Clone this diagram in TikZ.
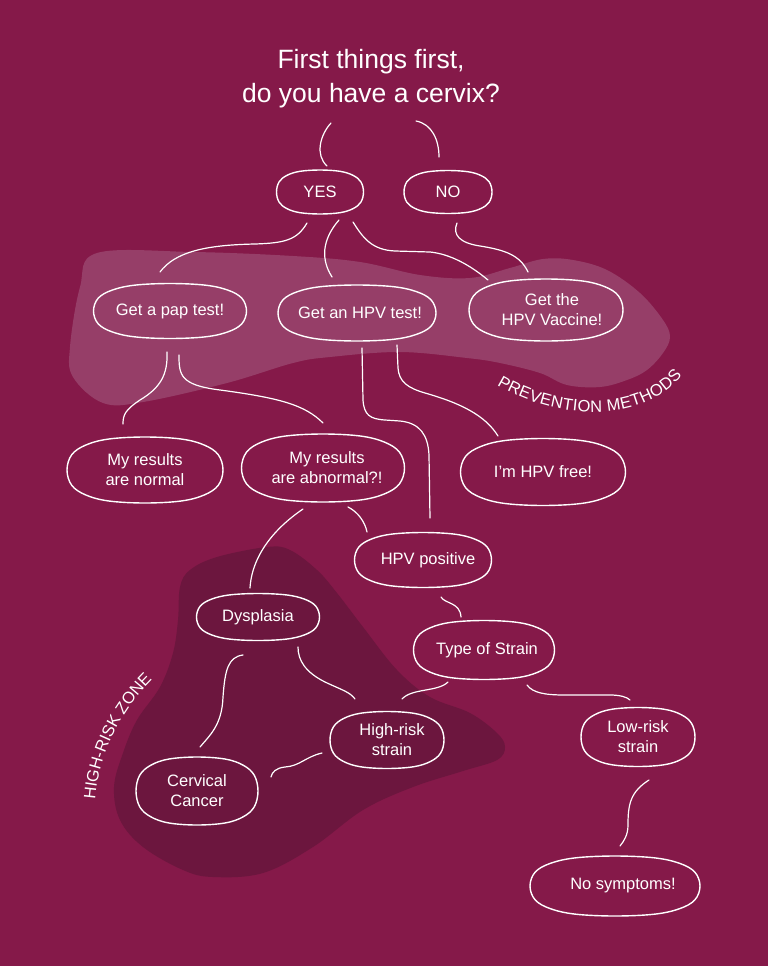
\documentclass[tikz,border=0pt]{standalone}
\usepackage{fontspec}
\setmainfont{Liberation Sans}
\usetikzlibrary{decorations.text}
\definecolor{bgc}{RGB}{133,25,73}
\definecolor{lightblob}{RGB}{150,62,104}
\definecolor{darkblob}{RGB}{108,22,62}
\newcommand\ovl[3]{\draw[ovalline, shift={(#1.center)}] plot[smooth cycle, tension=0.6] coordinates {
  ({#2},0) ({0.939*#2},{0.464*#3}) ({0.758*#2},{0.758*#3}) ({0.464*#2},{0.939*#3})
  (0,{#3}) ({-0.464*#2},{0.939*#3}) ({-0.758*#2},{0.758*#3}) ({-0.939*#2},{0.464*#3})
  ({-#2},0) ({-0.939*#2},{-0.464*#3}) ({-0.758*#2},{-0.758*#3}) ({-0.464*#2},{-0.939*#3})
  (0,{-#3}) ({0.464*#2},{-0.939*#3}) ({0.758*#2},{-0.758*#3}) ({0.939*#2},{-0.464*#3})};}
\begin{document}
\begin{tikzpicture}[x=1pt,y=-1pt,
  box/.style={text=white, align=center, font=\fontsize{16.5}{20}\selectfont, inner sep=0pt},
  ovalline/.style={draw=white, line width=1.4pt},
  conn/.style={draw=white, line width=1.2pt, line cap=round},
  ttl/.style={text=white, font=\fontsize{26.5}{33}\selectfont, inner sep=0pt}]
\fill[bgc] (0,0) rectangle (768,966);
\useasboundingbox (0,0) rectangle (768,966);

% background blobs
\fill[lightblob] plot[smooth cycle, tension=0.6] coordinates {
  (97,253) (193,252) (293,256) (360,262) (420,275) (470,278) (510,268) (543,259)
  (573,260) (607,270) (640,293) (663,320) (670,337) (663,353) (647,370) (627,380)
  (600,387) (567,385) (540,373) (500,363) (467,358) (400,352) (330,357) (293,363)
  (227,383) (143,402) (103,403) (73,377) (70,347) (80,287)};
\fill[darkblob] plot[smooth cycle, tension=0.6] coordinates {
  (267,547) (290,550) (317,570) (337,593) (363,627) (397,670) (430,697) (470,713)
  (497,733) (505,747) (497,760) (463,771) (413,787) (363,810) (313,847) (263,873)
  (213,877) (183,870) (143,847) (120,820) (114,787) (123,753) (137,720) (160,687)
  (173,653) (178,620) (180,587) (190,570) (217,557)};

% title
\node[ttl, anchor=base] (title1) at (371,69) {First things first,};
\node[ttl, anchor=base] (title2) at (371,102) {do you have a cervix?};

% boxes (labels + hand-drawn ovals)
\node[box] (yes) at (320,192) {YES};                 \ovl{yes}{43.5}{22}
\node[box] (no) at (448,192) {NO};                   \ovl{no}{44}{21.5}
\node[box] (pap) at (170,311) {Get a pap test!};     \ovl{pap}{76.5}{27.5}
\node[box] (hpvtest) at (357,313) {\hspace*{6pt}Get an HPV test!}; \ovl{hpvtest}{79}{28}
\node[box] (vaccine) at (546,310) {\hspace*{12pt}Get the\\\hspace*{12pt}HPV Vaccine!}; \ovl{vaccine}{77}{31}
\node[box] (normal) at (145,470) {My results\\are normal}; \ovl{normal}{78}{33}
\node[box] (abnormal) at (323,468) {\hspace*{8pt}My results\\\hspace*{8pt}are abnormal?!}; \ovl{abnormal}{81.5}{34}
\node[box] (hpvfree) at (543,472) {I’m HPV free!};   \ovl{hpvfree}{82.5}{33.5}
\node[box] (hpvpos) at (423,560) {\hspace*{10pt}HPV positive}; \ovl{hpvpos}{68.5}{27.5}
\node[box] (dysplasia) at (258,617) {Dysplasia};     \ovl{dysplasia}{61.5}{23.5}
\node[box] (strain) at (484,650) {\hspace*{6pt}Type of Strain}; \ovl{strain}{70.5}{29.5}
\node[box] (highrisk) at (387,740) {\hspace*{10pt}High-risk\\\hspace*{10pt}strain}; \ovl{highrisk}{57}{28.5}
\node[box] (lowrisk) at (638,737) {Low-risk\\strain}; \ovl{lowrisk}{57}{29.5}
\node[box] (cancer) at (197,791) {Cervical\\Cancer}; \ovl{cancer}{61}{34}
\node[box] (nosym) at (615,886) {\hspace*{16pt}No symptoms!}; \ovl{nosym}{85}{30}

% connectors
\draw[conn] ([shift={(-40,21)}]title2.base) .. controls (320,135) and (315,155) .. ([shift={(7,-26)}]yes.center);
\draw[conn] ([shift={(45,19)}]title2.base) .. controls (432,124) and (439,140) .. ([shift={(-9,-35)}]no.center);
\draw[conn] ([shift={(-13,31)}]yes.center) .. controls (297,240) and (285,243) .. (255,244)
  .. controls (205,245) and (175,252) .. ([shift={(-10,-39)}]pap.center);
\draw[conn] ([shift={(19,28)}]yes.center) .. controls (326,235) and (318,255) .. ([shift={(-25,-36)}]hpvtest.center);
\draw[conn] ([shift={(33,30)}]yes.center) .. controls (363,238) and (372,250) .. (395,251) -- (430,252)
  .. controls (450,254) and (470,265) .. ([shift={(-58,-30)}]vaccine.center);
\draw[conn] ([shift={(9,31)}]no.center) .. controls (452,235) and (460,243) .. (480,246)
  .. controls (505,250) and (520,255) .. ([shift={(-18,-38)}]vaccine.center);
\draw[conn] ([shift={(-3,41)}]pap.center) .. controls (168,375) and (160,388) .. (140,400)
  .. controls (125,410) and (123,415) .. ([shift={(-22,-46)}]normal.center);
\draw[conn] ([shift={(9,44)}]pap.center) .. controls (179,375) and (180,385) .. (220,390)
  .. controls (280,398) and (305,405) .. ([shift={(0,-45)}]abnormal.center);
\draw[conn] ([shift={(5,35)}]hpvtest.center) -- (363,400) .. controls (364,415) and (370,419) .. (385,420) -- (400,421)
  .. controls (420,423) and (428,435) .. (429,455) -- ([shift={(7,-42)}]hpvpos.center);
\draw[conn] ([shift={(40,32)}]hpvtest.center) -- (398,368) .. controls (399,382) and (408,388) .. (425,393)
  .. controls (460,403) and (485,415) .. ([shift={(-45,-36)}]hpvfree.center);
\draw[conn] ([shift={(-20,41)}]abnormal.center) .. controls (275,528) and (252,555) .. ([shift={(-8,-29)}]dysplasia.center);
\draw[conn] ([shift={(25,39)}]abnormal.center) .. controls (358,512) and (365,522) .. ([shift={(-56,-28)}]hpvpos.center);
\draw[conn] ([shift={(18,37)}]hpvpos.center) .. controls (445,604) and (460,602) .. ([shift={(-23,-33)}]strain.center);
\draw[conn] ([shift={(-36,32)}]strain.center) .. controls (438,692) and (412,688) .. ([shift={(15,-41)}]highrisk.center);
\draw[conn] ([shift={(43,35)}]strain.center) .. controls (533,693) and (545,695) .. (565,695) -- (610,695)
  .. controls (620,695) and (627,697) .. ([shift={(-8,-37)}]lowrisk.center);
\draw[conn] ([shift={(40,30)}]dysplasia.center) .. controls (298,660) and (305,672) .. (325,682)
  .. controls (342,690) and (350,692) .. ([shift={(-32,-41)}]highrisk.center);
\draw[conn] ([shift={(-15,38)}]dysplasia.center) .. controls (228,657) and (225,670) .. (223,697)
  .. controls (222,725) and (210,735) .. ([shift={(3,-44)}]cancer.center);
\draw[conn] ([shift={(-65,13)}]highrisk.center) .. controls (305,757) and (300,766) .. (285,767)
  .. controls (276,768) and (272,772) .. ([shift={(74,-14)}]cancer.center);
\draw[conn] ([shift={(11,43)}]lowrisk.center) .. controls (630,792) and (628,805) .. (628,825)
  .. controls (628,835) and (624,841) .. ([shift={(5,-40)}]nosym.center);

% curved labels
\path[decorate, decoration={text along path, text align={fit to path},
  text color=white, text={|\fontsize{16.5}{16.5}\selectfont|PREVENTION METHODS}}]
  (497,385) .. controls (555,420) and (640,425) .. (682,376);
\path[decorate, decoration={text along path, text align=center,
  text color=white, text={|\fontsize{16.5}{16.5}\selectfont|HIGH-RISK ZONE}}]
  (95,803) .. controls (97,757) and (121,709) .. (155,677);
\end{tikzpicture}
\end{document}
